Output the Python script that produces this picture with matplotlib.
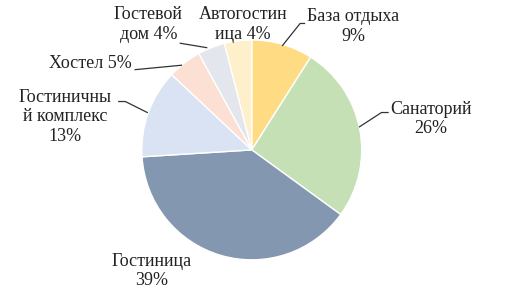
import matplotlib.pyplot as plt

plt.rcParams['font.family'] = ['Liberation Serif', 'DejaVu Serif']

categories = ['База отдыха', 'Санаторий', 'Гостиница', 'Гостиничный комплекс',
              'Хостел', 'Гостевой дом', 'Автогостиница']
shares = [9, 26, 39, 13, 5, 4, 4]
label_texts = ['База отдыха\n9%', 'Санаторий\n26%', 'Гостиница\n39%',
               'Гостиничны\nй комплекс\n13%', 'Хостел 5%', 'Гостевой\nдом 4%',
               'Автогостин\nица 4%']
colors = ['#FFDB84', '#C5E0B4', '#8497B0', '#DAE3F3', '#FBE0D3', '#E3E6EC', '#FFF0CC']

fig = plt.figure(figsize=(5.31, 2.91), dpi=100)
ax = fig.add_axes([0, 0, 1, 1])
ax.pie(shares, colors=colors, startangle=90, counterclock=False,
       wedgeprops=dict(edgecolor='white', linewidth=1))

# label positions (text centre) and leader lines, in axes data units
label_pos = [(0.92, 1.12), (1.63, 0.28), (-0.91, -1.10), (-1.70, 0.30),
             (-1.47, 0.79), (-0.94, 1.14), (-0.08, 1.14)]
line_pts = [
    [(0.28, 0.95), (0.44, 1.15), (0.48, 1.15)],
    [(0.98, 0.21), (1.18, 0.34), (1.24, 0.34)],
    None,
    [(-0.95, 0.34), (-1.15, 0.44), (-1.21, 0.44)],
    [(-0.64, 0.77), (-1.06, 0.73)],
    [(-0.41, 0.93), (-0.65, 0.97)],
    None,
]
for txt, pos, pts in zip(label_texts, label_pos, line_pts):
    ax.text(pos[0], pos[1], txt, ha='center', va='center', fontsize=13,
            color='#222222', linespacing=1.2)
    if pts:
        ax.plot([p[0] for p in pts], [p[1] for p in pts], color='#333333', lw=0.9)

ax.set_xlim(-2.29, 2.54)
ax.set_ylim(-1.28, 1.36)
ax.set_aspect('equal')
ax.axis('off')
fig.savefig('out.png', dpi=100)
